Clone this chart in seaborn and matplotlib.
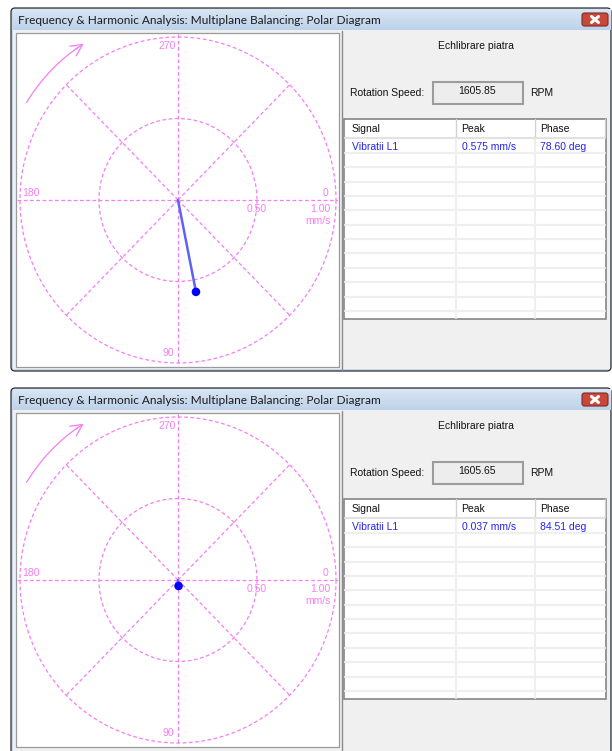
import numpy as np
import pandas as pd
import matplotlib.pyplot as plt
import seaborn as sns
from matplotlib.patches import Rectangle, FancyBboxPatch
from matplotlib.colors import LinearSegmentedColormap

sns.set_theme(style='white')
plt.rcParams['font.family'] = ['Liberation Sans', 'DejaVu Sans']

# values
window_title = "Frequency & Harmonic Analysis: Multiplane Balancing: Polar Diagram"
panel_title = "Echlibrare piatra"
speeds = ["1605.85", "1605.65"]
signals = ["Vibratii L1", "Vibratii L1"]
peaks = [0.575, 0.037]
phases = [78.60, 84.51]
angle_ticks = [0, 90, 180, 270]
ring_ticks = [0.50, 1.00]
columns = ["Signal", "Peak", "Phase"]
unit = "mm/s"

readings = pd.DataFrame({'signal': signals, 'peak': peaks, 'phase': phases, 'speed': speeds})

W, H = 612, 751
fig = plt.figure(figsize=(W / 100, H / 100), dpi=100)
fig.patch.set_facecolor('white')
bg = fig.add_axes([0, 0, 1, 1])
bg.axis('off')


def px_rect(x0, y0, x1, y1):
    return [x0 / W, 1 - y1 / H, (x1 - x0) / W, (y1 - y0) / H]


pink = '#f47ef4'
dash = (0, (3, 2))
blue_txt = '#2424ee'
title_cmap = LinearSegmentedColormap.from_list('tb', ['#d9e6f4', '#bdd2ea'])

for i, row in readings.iterrows():
    oy = 380 * i
    win_h = 363 if i == 0 else 400  # second window runs off the bottom edge

    # window chrome
    bg.add_patch(FancyBboxPatch((11, 8 + oy), 600, win_h, boxstyle='round,pad=0,rounding_size=4',
                                facecolor='#c6d8ee', edgecolor='#2e2e2e', lw=0.9))
    bg.add_patch(Rectangle((13, 30 + oy), 597, win_h - 24, facecolor='#f0f0f0', edgecolor='none'))
    bg.imshow(np.linspace(0, 1, 30).reshape(-1, 1), cmap=title_cmap, aspect='auto',
              extent=(12.5, 610, 30 + oy, 9.5 + oy), origin='upper', zorder=1)
    bg.text(18, 20 + oy, window_title, fontsize=8.6, family=['Lato', 'DejaVu Sans'],
            va='center', ha='left', color='#1b1b1b', zorder=3)
    bg.add_patch(FancyBboxPatch((582, 13 + oy), 26, 13, boxstyle='round,pad=0,rounding_size=2.5',
                                facecolor='#c9483a', edgecolor='#7a2d25', lw=0.8, zorder=3))
    bg.plot([591.5, 598.5], [16.5 + oy, 22.5 + oy], color='white', lw=2.2, zorder=4)
    bg.plot([591.5, 598.5], [22.5 + oy, 16.5 + oy], color='white', lw=2.2, zorder=4)

    # plot frame
    bg.add_patch(Rectangle((16, 33 + oy), 323, 334, facecolor='white', edgecolor='#9a9a9a', lw=0.9))
    bg.plot([342, 342], [31 + oy, 370 + oy], color='#8a8a8a', lw=1.0)

    # right panel
    bg.text(476, 46 + oy, panel_title, ha='center', va='center', fontsize=7.5, color='#111111')
    bg.text(350, 93 + oy, 'Rotation Speed:', ha='left', va='center', fontsize=7.5, color='#111111')
    bg.add_patch(Rectangle((433, 82 + oy), 90, 22, facecolor='#ededed', edgecolor='#9c9c9c', lw=1.5))
    bg.text(477, 91.5 + oy, row['speed'], ha='center', va='center', fontsize=7.5, color='#111111')
    bg.text(530, 93 + oy, 'RPM', ha='left', va='center', fontsize=7.5, color='#111111')

    # table
    bg.add_patch(Rectangle((343.5, 118.5 + oy), 262.5, 200, facecolor='white', edgecolor='#858585', lw=1.2))
    col_x = [351.5, 461.5, 540.5]
    div_x = [455.5, 534.5]
    for k in range(12):
        yy = 153 + 14.35 * k + oy
        bg.plot([345, 605], [yy, yy], color='#efefef', lw=1.6)
    for dx in div_x:
        bg.plot([dx, dx], [137 + oy, 318 + oy], color='#efefef', lw=1.5)
        bg.plot([dx, dx], [119 + oy, 137 + oy], color='#d2d2d2', lw=1.0)
    bg.plot([345, 605], [137.5 + oy, 137.5 + oy], color='#e2e2e2', lw=1.5)
    bg.plot([604.5, 604.5], [119 + oy, 137 + oy], color='#d2d2d2', lw=1.0)
    for cx_, name in zip(col_x, columns):
        bg.text(cx_, 128.5 + oy, name, ha='left', va='center', fontsize=7.5, color='#111111')
    cells = [row['signal'], f"{row['peak']:.3f} {unit}", f"{row['phase']:.2f} deg"]
    for cx_, val in zip(col_x, cells):
        bg.text(cx_, 146.5 + oy, val, ha='left', va='center', fontsize=7.5, color=blue_txt)

    # polar diagram, angle grows clockwise (screen y down)
    pax = fig.add_axes(px_rect(17, 34 + oy, 338, 366 + oy))
    pax.axis('off')
    t = np.linspace(0, 2 * np.pi, 400)
    for r in ring_ticks:
        pax.plot(r * np.cos(t), r * np.sin(t), color=pink, lw=0.9, ls=dash)
    pax.plot([-1.02, 1.02], [0, 0], color=pink, lw=0.9, ls=dash)
    pax.plot([0, 0], [-1.02, 1.02], color=pink, lw=0.9, ls=dash)
    for a in [45, 135, 225, 315]:
        pax.plot([0, np.cos(np.radians(a))], [0, np.sin(np.radians(a))], color=pink, lw=0.9, ls=dash)

    lab_kw = dict(fontsize=7.5, color=pink, va='center')
    pax.text(-0.015, -0.943, str(angle_ticks[3]), ha='right', **lab_kw)
    pax.text(-0.025, 0.94, str(angle_ticks[1]), ha='right', **lab_kw)
    pax.text(-0.985, -0.043, str(angle_ticks[2]), ha='left', **lab_kw)
    pax.text(0.953, -0.043, str(angle_ticks[0]), ha='right', **lab_kw)
    pax.text(0.495, 0.053, f"{ring_ticks[0]:.2f}", ha='center', **lab_kw)
    pax.text(0.965, 0.053, f"{ring_ticks[1]:.2f}", ha='right', **lab_kw)
    pax.text(0.965, 0.13, unit, ha='right', **lab_kw)

    # rotation arrow
    ta = np.radians(np.linspace(212, 236, 40))
    ra = 1.13
    pax.plot(ra * np.cos(ta), ra * np.sin(ta), color=pink, lw=0.9)
    pax.annotate('', xy=(ra * np.cos(np.radians(239)), ra * np.sin(np.radians(239))),
                 xytext=(ra * np.cos(np.radians(234)), ra * np.sin(np.radians(234))),
                 arrowprops=dict(arrowstyle='->,head_length=0.7,head_width=0.35', color=pink, lw=0.9))

    # vector
    ang = np.radians(row['phase'])
    tip_x = row['peak'] * np.cos(ang)
    tip_y = row['peak'] * np.sin(ang)
    vec = pd.DataFrame({'x': [0, tip_x], 'y': [0, tip_y]})
    sns.lineplot(data=vec, x='x', y='y', sort=False, estimator=None, color='#5c64f2', lw=1.8, ax=pax)
    sns.scatterplot(x=[tip_x], y=[tip_y], color='#0000ff', s=38, edgecolor='none', ax=pax, zorder=5)

    pax.set_xlim((17 - 178) / 158, (338 - 178) / 158)
    pax.set_ylim((366 - 200) / 163, (34 - 200) / 163)
    pax.set_xlabel('')
    pax.set_ylabel('')

bg.set_xlim(0, W)
bg.set_ylim(H, 0)

fig.savefig('out.png', dpi=100, facecolor='white')
